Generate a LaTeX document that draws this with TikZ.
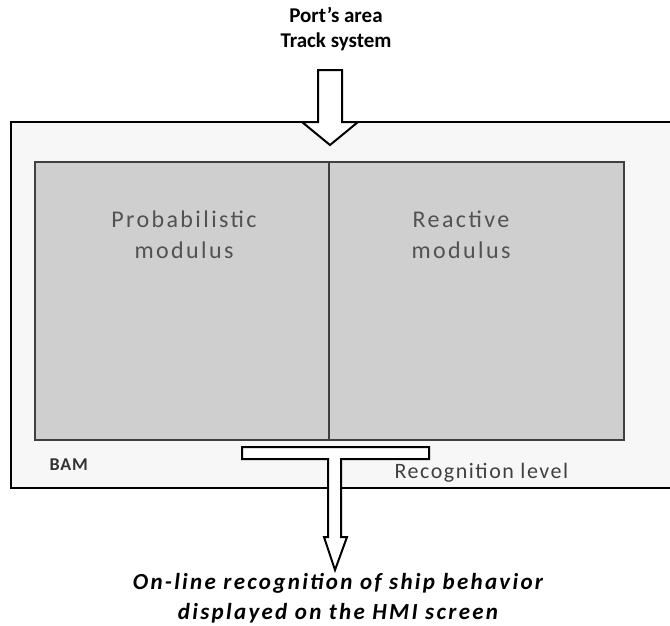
\documentclass[tikz,border=0pt]{standalone}
\usepackage{fontspec}
\setmainfont{Carlito}
\begin{document}
\begin{tikzpicture}[
    x=1pt,y=-1pt,
    frame/.style={draw=black,line width=2pt,fill=black!3},
    module/.style={draw=black!75,line width=2pt,fill=black!19},
    blockarrow/.style={draw=black,line width=2pt,fill=white,line join=miter},
    modtext/.style={anchor=base,align=center,text=black!68,font=\fontsize{24}{31}\selectfont\addfontfeature{LetterSpace=10}},
    label/.style={anchor=base,font=\fontsize{21}{25}\selectfont\bfseries}
]
    \useasboundingbox (0,0) rectangle (670,625);
    \clip (0,0) rectangle (670,625);

    % Outer level
    \draw[frame] (11,122) rectangle (675,488);
    \node[anchor=base west,font=\fontsize{18}{20}\selectfont\bfseries\addfontfeature{LetterSpace=5},text=black!80] (bam) at (46,470) {BAM};
    \node[anchor=base west,font=\fontsize{22}{24}\selectfont\addfontfeature{LetterSpace=7},text=black!75] (level) at (391,478) {Recognition level};

    % Modules
    \draw[module] (35,162) rectangle (329,440);
    \draw[module] (329,162) rectangle (624,440);
    \node[modtext] (prob) at (184,258) {Probabilistic\\modulus};
    \node[modtext] (react) at (461,258) {Reactive\\modulus};

    % Input
    \node[label,align=center] (input) at (336,47) {Port’s area\\Track system};
    \draw[blockarrow] (318,70) -- (342,70) -- (342,122) -- (358,122) -- (330,145)
        -- (302,122) -- (318,122) -- cycle;

    % Output
    \draw[blockarrow] (242,447) -- (429,447) -- (429,459) -- (341,459) -- (341,537)
        -- (347,537) -- (335,570) -- (324,537) -- (328,537) -- (328,459)
        -- (242,459) -- cycle;
    \node[anchor=base,align=center,font=\fontsize{23}{30}\selectfont\bfseries\itshape\addfontfeature{LetterSpace=10}] (output) at (338,619)
        {On-line recognition of ship behavior\\displayed on the HMI screen};
\end{tikzpicture}
\end{document}
